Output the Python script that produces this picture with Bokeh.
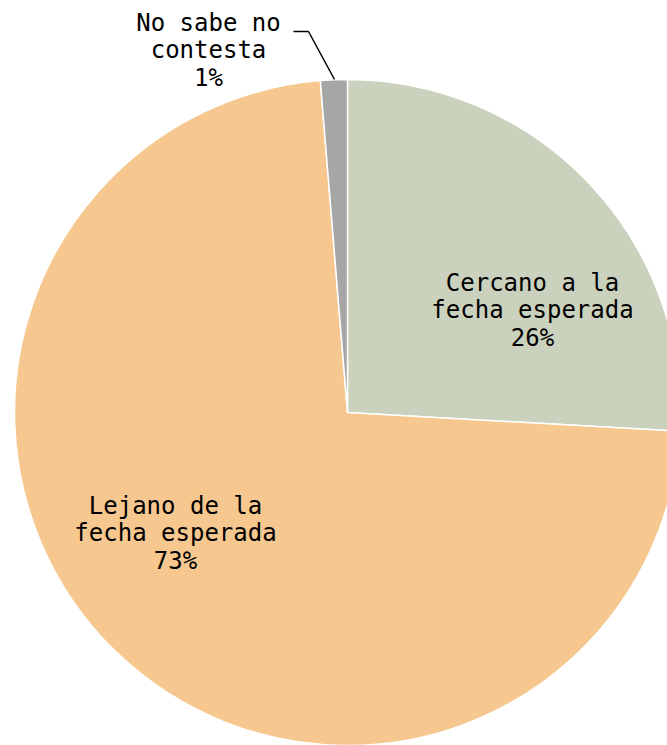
import numpy as np
from bokeh.plotting import figure
from bokeh.models import ColumnDataSource, Range1d
from bokeh.core.properties import value
from bokeh.embed import file_html
from bokeh.resources import INLINE

# Data
categories = ["Cercano a la\nfecha esperada", "Lejano de la\nfecha esperada", "No sabe no\ncontesta"]
values = [25.9, 72.8, 1.3]
colors = ["#CAD2BE", "#F6C78E", "#A6A6A6"]

W, H = 667, 745
p = figure(width=W, height=H, output_backend="svg", toolbar_location=None,
           x_range=Range1d(0, W), y_range=Range1d(0, H), min_border=0)
p.axis.visible = False
p.grid.visible = False
p.outline_line_color = None
p.background_fill_color = "white"
p.border_fill_color = "white"

cx, cy, r = 347, 333, 333
v = np.array(values, dtype=float)
frac = v / v.sum()
cum = np.concatenate([[0], np.cumsum(frac)])
start_deg = 90 - 360 * cum[:-1]   # clockwise from top
end_deg = 90 - 360 * cum[1:]

src = ColumnDataSource(dict(
    x=[cx] * len(v), y=[cy] * len(v),
    start=np.radians(end_deg), end=np.radians(start_deg),
    color=colors,
))
p.wedge(x="x", y="y", radius=r, start_angle="start", end_angle="end",
        fill_color="color", line_color="white", line_width=1.5, source=src)

# Labels
label_x = [532, 175, 208]
label_y = [435, 212, 695]
texts = [f"{c}\n{round(val)}%" for c, val in zip(categories, values)]
lsrc = ColumnDataSource(dict(x=label_x, y=label_y, t=texts))
p.text(x="x", y="y", text="t", source=lsrc, text_align="center", text_baseline="middle",
       text_font=value("DejaVu Sans Mono"), text_font_size="24px", text_color="black",
       text_line_height=0.97)

# Leader line for small slice
p.line(x=[293, 308, 334], y=[714, 714, 666], line_color="black", line_width=1.5)

open("out.html", "w").write(file_html(p, INLINE))
